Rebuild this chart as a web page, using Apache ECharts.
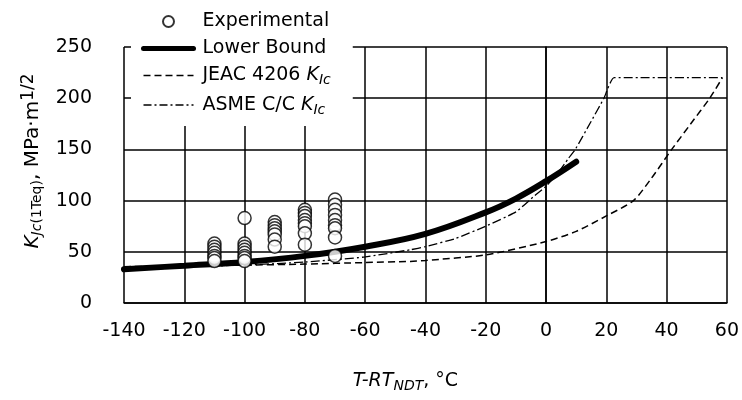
<!DOCTYPE html>
<html>
<head>
<meta charset="utf-8">
<script src="https://cdn.jsdelivr.net/npm/echarts@6/dist/echarts.min.js"></script>
<style>
  html, body { margin: 0; padding: 0; background: #fff; }
  #chart { width: 742px; height: 400px; }
</style>
</head>
<body>
<div id="chart"></div>
<script>
// Experimental fracture toughness, grouped by test temperature (T - RT_NDT, °C)
const expTemps = [-110, -100, -90, -80, -70];
const expK110 = [58, 55, 52, 49, 46, 44, 41];
const expK100 = [83, 58, 55, 52, 49, 46, 44, 41];
const expK90  = [79, 76, 73, 70, 67, 62, 55];
const expK80  = [91, 88, 85, 81, 78, 75, 68, 57];
const expK70  = [101, 96, 91, 86, 81, 76, 73, 64, 46];
const expGroups = [expK110, expK100, expK90, expK80, expK70];

// Lower bound curve
const lbT = [-140, -120, -100, -80, -60, -40, -20, -10, 0, 10];
const lbK = [33, 36.4, 40, 46, 55, 67.5, 88.5, 102, 119, 138];

// JEAC 4206 K_Ic curve
const jeacT = [-140, -120, -100, -80, -60, -45, -40, -20, 0, 10, 20, 29, 35, 41.7, 48, 54.3, 58.5];
const jeacK = [35.5, 36, 37, 38, 39.5, 40.6, 41.5, 47, 60, 70, 85, 100, 122, 150, 175, 200, 220];

// ASME code case K_Ic curve (capped at 220)
const asmeT = [-140, -120, -100, -80, -60, -45, -40, -30, -20, -10, -3.7, 0, 4, 7.5, 9.7, 14.7, 19.2, 22.6, 58.5];
const asmeK = [35, 35.5, 37, 40, 45, 52, 55, 63, 75, 89, 105, 114, 127, 141.5, 150, 176, 200, 220, 220];

// Axis ranges and ticks
const xMin = -140, xMax = 60, xStep = 20;
const yMin = 0, yMax = 250, yStep = 50;

const FONT = 'DejaVu Sans';
const FS = 19;
const pairs = (xs, ys) => xs.map((x, i) => [x, ys[i]]);
const expData = [];
expTemps.forEach((t, i) => expGroups[i].forEach(k => expData.push([t, k])));

const richText = {
  n:   { fontFamily: FONT, fontSize: FS, color: '#000', lineHeight: 24 },
  i:   { fontFamily: FONT, fontSize: FS, color: '#000', lineHeight: 24, fontStyle: 'italic' },
  si:  { fontFamily: FONT, fontSize: 14, color: '#000', lineHeight: 11, fontStyle: 'italic', verticalAlign: 'bottom' },
  s:   { fontFamily: FONT, fontSize: 14, color: '#000', lineHeight: 11, verticalAlign: 'bottom' },
  sup: { fontFamily: FONT, fontSize: 14, color: '#000', lineHeight: 11, verticalAlign: 'top' }
};

// Slightly larger styling for the vertical axis title
const yNameRich = {
  n:   { fontFamily: FONT, fontSize: 20, color: '#000', lineHeight: 25 },
  i:   { fontFamily: FONT, fontSize: 20, color: '#000', lineHeight: 25, fontStyle: 'italic' },
  si:  { fontFamily: FONT, fontSize: 14, color: '#000', lineHeight: 11, fontStyle: 'italic', verticalAlign: 'bottom' },
  s:   { fontFamily: FONT, fontSize: 14, color: '#000', lineHeight: 11, verticalAlign: 'bottom' },
  sup: { fontFamily: FONT, fontSize: 17, color: '#000', lineHeight: 12, verticalAlign: 'top' }
};

const legendLabels = {
  'Experimental': '{n|Experimental}',
  'Lower Bound': '{n|Lower Bound}',
  'JEAC 4206 KIc': '{n|JEAC 4206 }{i|K}{si|Ic}',
  'ASME C/C KIc': '{n|ASME C/C }{i|K}{si|Ic}'
};

const chart = echarts.init(document.getElementById('chart'), null, { renderer: 'canvas' });

const gridLine = { show: true, lineStyle: { color: '#000', width: 1.5 } };
const noMarker = { color: 'rgba(0,0,0,0)', borderWidth: 0, opacity: 0 };

chart.setOption({
  animation: false,
  backgroundColor: '#fff',
  grid: { left: 124, right: 13, top: 47, bottom: 97, containLabel: false },
  legend: {
    orient: 'vertical',
    left: 131,
    top: 0,
    itemWidth: 50,
    itemHeight: 11,
    itemGap: 8,
    selectedMode: false,
    backgroundColor: '#fff',
    padding: [12, 22, 9, 10],
    textStyle: { fontFamily: FONT, fontSize: FS, color: '#000', padding: [0, 0, 0, 4], rich: richText },
    formatter: name => legendLabels[name],
    data: [
      { name: 'Experimental' },
      { name: 'Lower Bound', itemStyle: noMarker, lineStyle: { width: 5, color: '#000' } },
      { name: 'JEAC 4206 KIc', itemStyle: noMarker, lineStyle: { width: 1.5, color: '#000', type: [7, 4] } },
      { name: 'ASME C/C KIc', itemStyle: noMarker, lineStyle: { width: 1.5, color: '#000', type: [8, 3, 2, 3] } }
    ]
  },
  xAxis: {
    type: 'value',
    min: xMin, max: xMax, interval: xStep,
    axisLine: { show: true, onZero: false, lineStyle: { color: '#000', width: 1.5 } },
    axisTick: { show: false },
    splitLine: gridLine,
    axisLabel: { color: '#000', fontFamily: FONT, fontSize: FS, margin: 19 },
    name: '{i|T-RT}{si|NDT}{n|, °C}',
    nameLocation: 'middle',
    nameGap: 66,
    nameTextStyle: { rich: richText, padding: [0, 40, 0, 0] }
  },
  yAxis: {
    type: 'value',
    min: yMin, max: yMax, interval: yStep,
    axisLine: { show: true, lineStyle: { color: '#000', width: 1.5 } },
    axisTick: { show: false },
    splitLine: gridLine,
    axisLabel: { color: '#000', fontFamily: FONT, fontSize: FS, margin: 32 },
    name: '{i|K}{si|Jc}{s|(1Teq)}{n|, MPa·m}{sup|1/2}',
    nameLocation: 'middle',
    nameRotate: 90,
    nameGap: 79,
    nameTextStyle: { rich: yNameRich, padding: [0, 0, 0, 28] }
  },
  series: [
    {
      name: 'Experimental',
      type: 'scatter',
      z: 5,
      symbol: 'circle',
      symbolSize: 13,
      itemStyle: { color: '#fff', borderColor: '#000', borderWidth: 1.5 },
      data: expData
    },
    {
      name: 'Lower Bound',
      type: 'line',
      z: 4,
      symbol: 'none',
      smooth: 0.4,
      lineStyle: { color: '#000', width: 6, cap: 'round' },
      itemStyle: { color: '#000' },
      data: pairs(lbT, lbK)
    },
    {
      name: 'JEAC 4206 KIc',
      type: 'line',
      z: 3,
      symbol: 'none',
      smooth: 0.25,
      lineStyle: { color: '#000', width: 1.5, type: [7, 4] },
      itemStyle: { color: '#000' },
      data: pairs(jeacT, jeacK)
    },
    {
      name: 'ASME C/C KIc',
      type: 'line',
      z: 3,
      symbol: 'none',
      smooth: 0.15,
      lineStyle: { color: '#000', width: 1.3, type: [9, 3, 2, 3] },
      itemStyle: { color: '#000' },
      data: pairs(asmeT, asmeK)
    }
  ]
});
</script>
</body>
</html>
